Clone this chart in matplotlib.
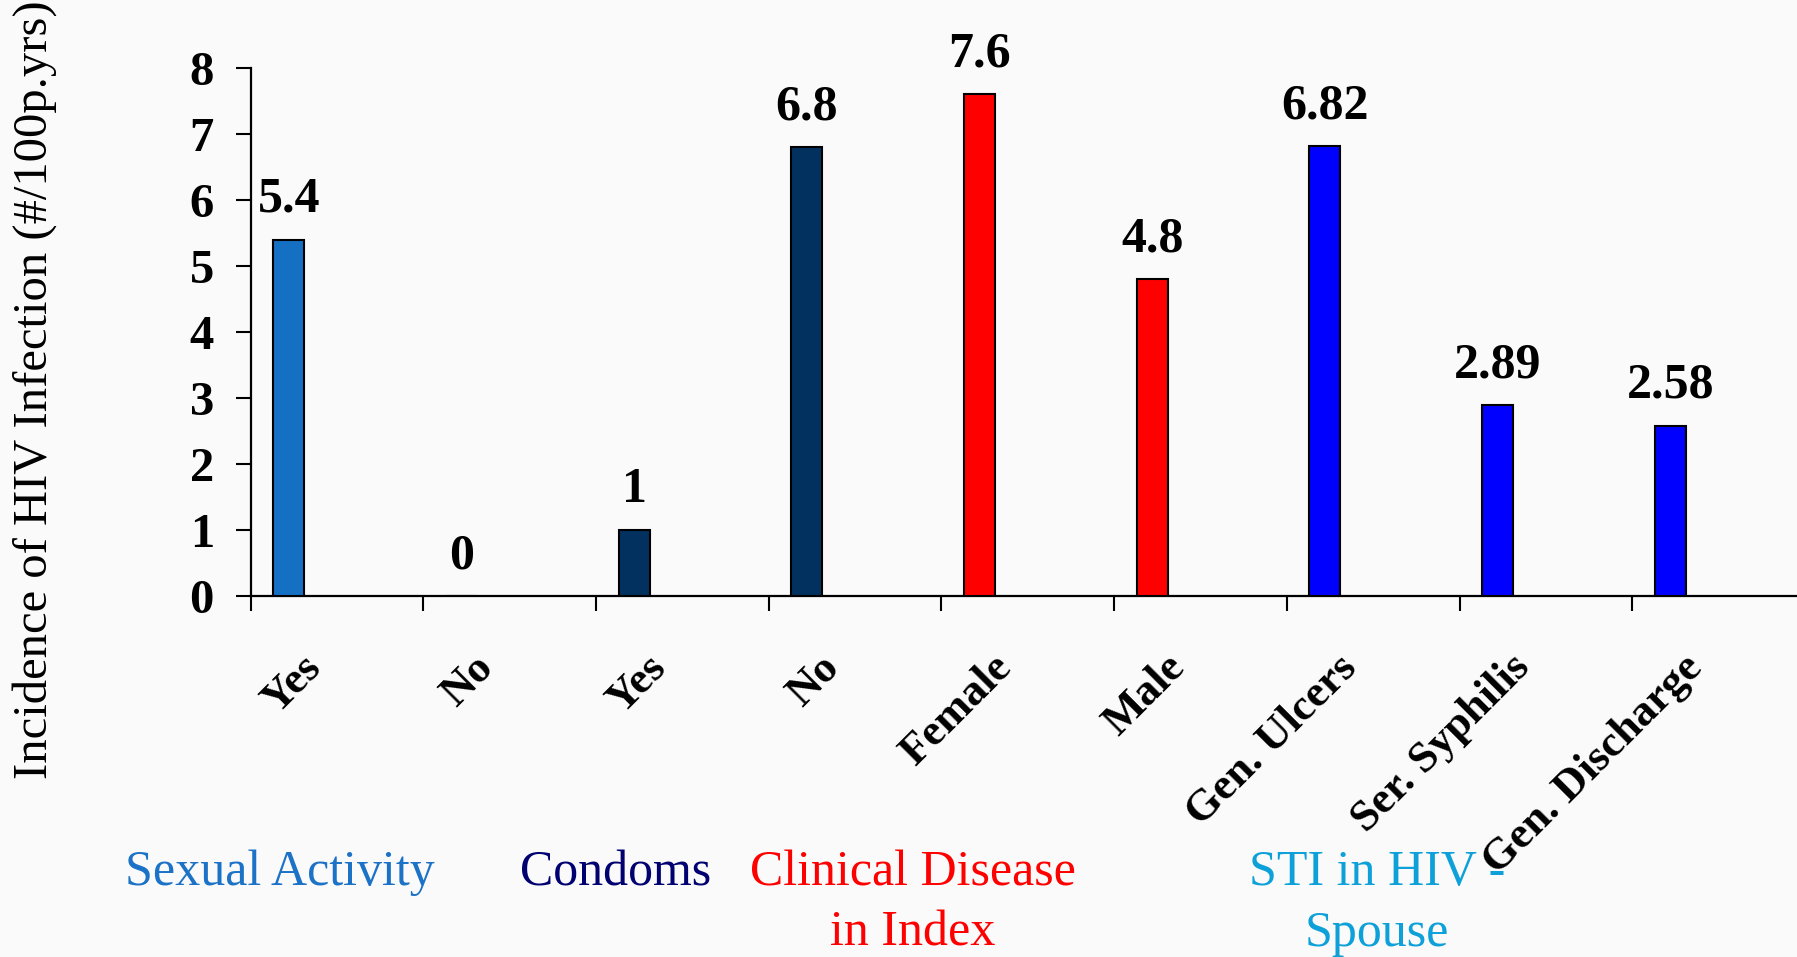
import matplotlib
matplotlib.use("Agg")
import matplotlib.pyplot as plt
import numpy as np

plt.rcParams['font.family'] = ['Liberation Serif', 'DejaVu Serif']

categories = ["Yes", "No", "Yes", "No", "Female", "Male",
              "Gen. Ulcers", "Ser. Syphilis", "Gen. Discharge"]
values = [5.4, 0, 1, 6.8, 7.6, 4.8, 6.82, 2.89, 2.58]
value_text = ["5.4", "0", "1", "6.8", "7.6", "4.8", "6.82", "2.89", "2.58"]
bar_colors = ["#1570C4", "#03315F", "#03315F", "#03315F", "#FF0000",
              "#FF0000", "#0000FF", "#0000FF", "#0000FF"]

group_lines = [["Sexual Activity"], ["Condoms"],
               ["Clinical Disease", "in Index"], ["STI in HIV -", "Spouse"]]
group_colors = ["#1C72C6", "#000070", "#FF0000", "#0EA0D8"]

W, H = 1797, 957
bg = "#FAFAFA"
fig = plt.figure(figsize=(W / 100, H / 100), dpi=100, facecolor=bg)

# axes placed in pixel terms of the reference
x0, x1 = 250.7, 1805.0
y0, y8 = 596.0, 68.0
ax = fig.add_axes([x0 / W, 1 - y0 / H, (x1 - x0) / W, (y0 - y8) / H])
ax.set_facecolor("none")

x = np.arange(len(categories))
ax.bar(x - 0.28, values, width=0.18, color=bar_colors,
       edgecolor="black", linewidth=1.5, zorder=3)

for xi, v, t in zip(x, values, value_text):
    ax.annotate(t, (xi - 0.28, v), xytext=(0, 20), textcoords="offset points",
                ha="center", va="baseline", fontsize=36, fontweight="bold")

ax.set_xlim(-0.5, len(categories) - 0.5)
ax.set_ylim(0, 8)

for s in ["top", "right"]:
    ax.spines[s].set_visible(False)
for s in ["left", "bottom"]:
    ax.spines[s].set_linewidth(1.6)

ax.set_yticks(range(0, 9))
ax.set_yticklabels([str(i) for i in range(0, 9)], fontsize=35, fontweight="bold")
ax.tick_params(axis="y", length=10.5, width=1.5, pad=16)

# boundary ticks, labels sit in between (a bit left of centre)
ax.set_xticks(np.arange(-0.5, len(categories) - 1, 1.0))
ax.set_xticklabels([])
ax.tick_params(axis="x", which="major", length=10.5, width=1.5)
ax.set_xticks(x - 0.13, minor=True)
ax.set_xticklabels(categories, minor=True, rotation=45, ha="right",
                   va="center", rotation_mode="anchor",
                   fontsize=32, fontweight="bold")
ax.tick_params(axis="x", which="minor", length=0, pad=47)

fig.text(35 / W, 1 - 390 / H, "Incidence of HIV Infection (#/100p.yrs)",
         rotation=90, ha="center", va="center", fontsize=35)

group_x = [280, 616, 913, 1377]
line_y = [885, 946]
for gx, lines, c in zip(group_x, group_lines, group_colors):
    for ly, txt in zip(line_y, lines):
        fig.text(gx / W, 1 - ly / H, txt, ha="center", va="baseline",
                 fontsize=36, color=c)

fig.savefig("out.png", dpi=100, facecolor=bg)
